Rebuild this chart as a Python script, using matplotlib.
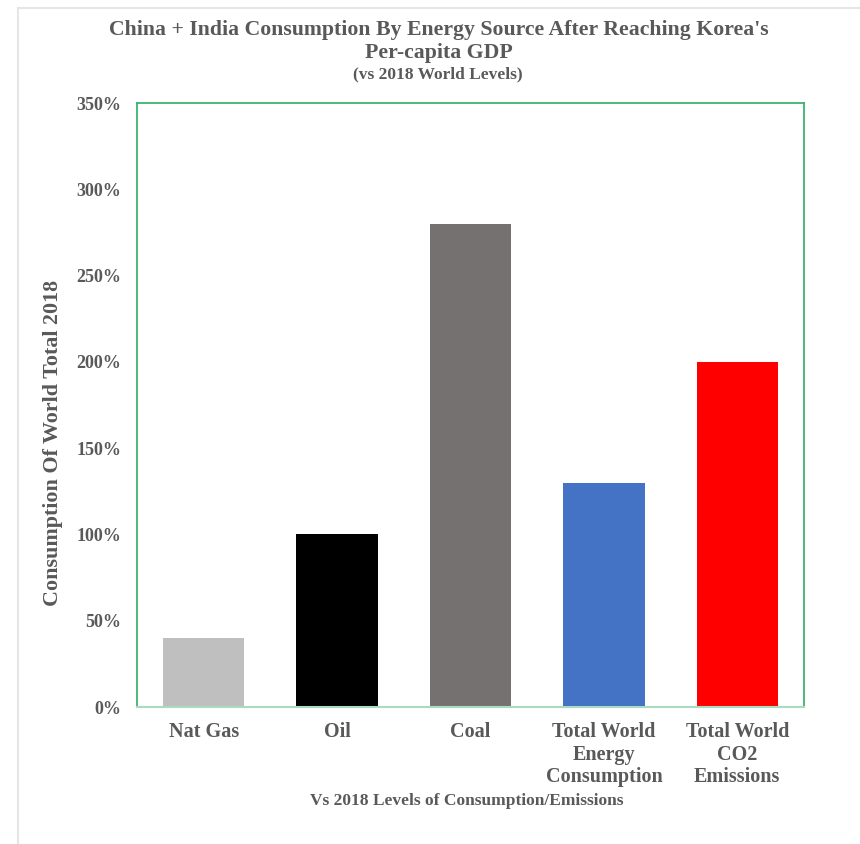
import matplotlib
matplotlib.use("Agg")
import matplotlib.pyplot as plt
from matplotlib.ticker import FuncFormatter, MultipleLocator
from matplotlib.patches import Rectangle

categories = ["Nat Gas", "Oil", "Coal", "Total World\nEnergy\nConsumption", "Total World\nCO2\nEmissions"]
values = [40, 100, 280, 130, 200]
colors = ["#bfbfbf", "#000000", "#767171", "#4472c4", "#ff0000"]

title = "China + India Consumption By Energy Source After Reaching Korea's\nPer-capita GDP"
subtitle = "(vs 2018 World Levels)"
ylabel = "Consumption Of World Total 2018"
xlabel = "Vs 2018 Levels of Consumption/Emissions"

TEXT = "#595959"
plt.rcParams["font.family"] = ["Liberation Serif", "DejaVu Serif"]
plt.rcParams["font.weight"] = "bold"

fig = plt.figure(figsize=(8.6, 8.44), dpi=100)
W, H = 860, 844

# outer chart frame
fig.patches.append(Rectangle((18 / W, -0.01), 1.2, 1 - 8 / H + 0.01, transform=fig.transFigure,
                             fill=False, edgecolor="#e6e6e6", linewidth=1.5))

ax = fig.add_axes([137 / W, 1 - 707 / H, (804 - 137) / W, (707 - 103) / H])
x = range(len(categories))
ax.bar(x, values, width=0.61, color=colors, zorder=2)
ax.set_xlim(-0.5, len(categories) - 0.5)
ax.set_ylim(0, 350)
ax.yaxis.set_major_locator(MultipleLocator(50))
ax.yaxis.set_major_formatter(FuncFormatter(lambda v, p: f"{v:.0f}%"))
ax.set_xticks(list(x))
ax.set_xticklabels(categories, linespacing=1.15)
ax.tick_params(axis="both", length=0, labelcolor=TEXT)
ax.tick_params(axis="y", pad=11.5, labelsize=13)
ax.tick_params(axis="x", pad=11, labelsize=14.5)
for lab in ax.get_xticklabels() + ax.get_yticklabels():
    lab.set_fontweight("bold")

for s in ["left", "top", "right"]:
    ax.spines[s].set_color("#3cb371")
    ax.spines[s].set_linewidth(1.3)
ax.spines["bottom"].set_color("#a8dcc0")
ax.spines["bottom"].set_linewidth(1.5)

fig.text(439 / W, 1 - 41.5 / H, title, ha="center", va="center",
         fontsize=15.7, fontweight="bold", color=TEXT, linespacing=1.2)
fig.text(438 / W, 1 - 74 / H, subtitle, ha="center", va="center",
         fontsize=12.5, fontweight="bold", color=TEXT)
fig.text(53 / W, 1 - 443 / H, ylabel, ha="center", va="center", rotation=90,
         fontsize=15.8, fontweight="bold", color=TEXT)
fig.text(467 / W, 1 - 801 / H, xlabel, ha="center", va="center",
         fontsize=12.5, fontweight="bold", color=TEXT)

fig.savefig("out.png", dpi=100)
